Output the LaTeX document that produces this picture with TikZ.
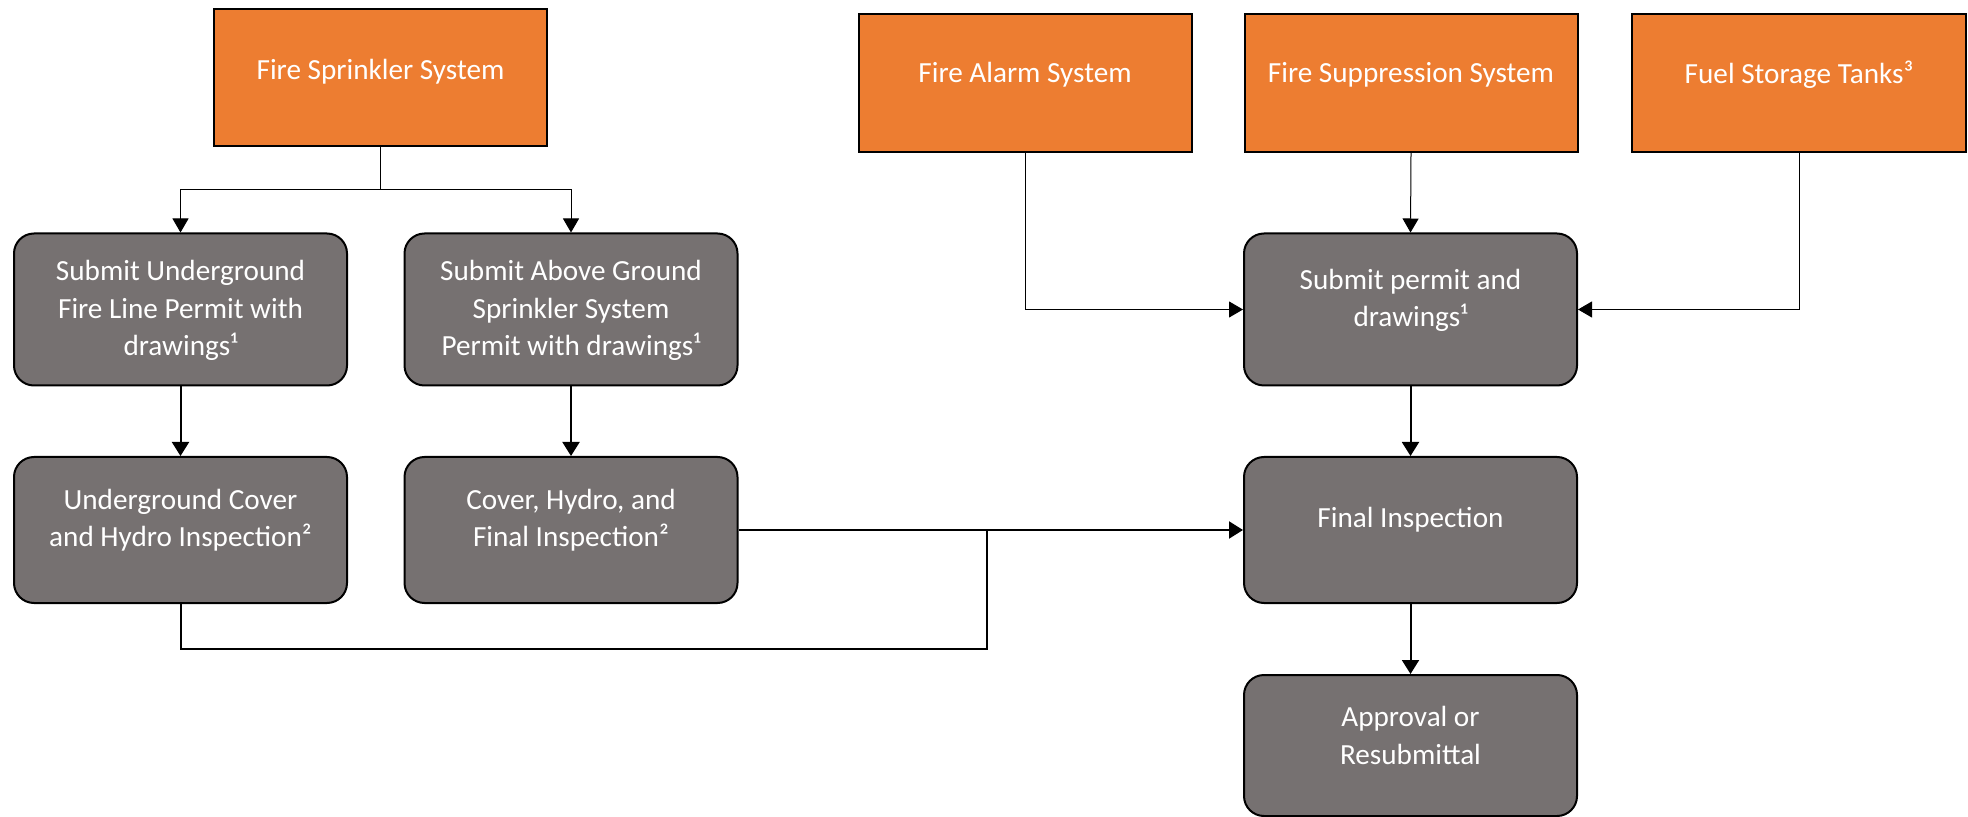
\documentclass[tikz,border=0pt]{standalone}
\usepackage{fontspec}
\setmainfont{Carlito}
\usetikzlibrary{arrows.meta}
\definecolor{orng}{HTML}{ED7D31}
\definecolor{gry}{HTML}{767171}
\begin{document}
\begin{tikzpicture}[x=0.5pt,y=-0.5pt,
  obox/.style={draw=black, line width=1pt, fill=orng, minimum width=166.5pt, inner sep=0pt},
  gbox/.style={draw=black, line width=1pt, fill=gry, rounded corners=10pt, minimum width=166.5pt, inner sep=0pt},
  txt/.style={text=white, align=center, font=\fontsize{14.6}{18.6}\selectfont, inner sep=0pt},
  thinarr/.style={line width=0.5pt, -{Triangle[length=7pt,width=8pt]}},
  thickarr/.style={line width=1pt, -{Triangle[length=7pt,width=8.5pt]}},
  thickln/.style={line width=1pt},
  thinln/.style={line width=0.5pt}]
\useasboundingbox (0,0) rectangle (1968,817);
% orange boxes
\node[obox, minimum height=68.25pt] (fs) at (380.5,77.75) {};
\node[txt] (fsT) at ([yshift=3pt]fs.center) {Fire Sprinkler System};
\node[obox, minimum height=68.75pt] (fa) at (1025,83) {};
\node[txt] (faT) at ([yshift=4.25pt]fa.center) {Fire Alarm System};
\node[obox, minimum height=68.75pt] (fsup) at (1411,83) {};
\node[txt] (fsupT) at ([yshift=4.25pt]fsup.center) {Fire Suppression System};
\node[obox, minimum height=68.75pt, minimum width=167pt] (fuel) at (1799,83) {};
\node[txt] (fuelT) at ([yshift=4.25pt]fuel.center) {Fuel Storage Tanks³};
% grey boxes
\node[gbox, minimum height=76pt] (su) at (180.5,309.5) {};
\node[txt] (suT) at ([yshift=-0.5pt]su.center) {Submit Underground\\Fire Line Permit with\\drawings¹};
\node[gbox, minimum height=76pt] (sa) at (571,309.5) {};
\node[txt] (saT) at ([yshift=-0.5pt]sa.center) {Submit Above Ground\\Sprinkler System\\Permit with drawings¹};
\node[gbox, minimum height=73pt] (uc) at (180.5,530) {};
\node[txt] (ucT) at ([yshift=5pt]uc.center) {Underground Cover\\and Hydro Inspection²};
\node[gbox, minimum height=73pt] (ch) at (571,530) {};
\node[txt] (chT) at ([yshift=5pt]ch.center) {Cover, Hydro, and\\Final Inspection²};
\node[gbox, minimum height=76pt] (sp) at (1410.5,309.5) {};
\node[txt] (spT) at ([yshift=4.5pt]sp.center) {Submit permit and\\drawings¹};
\node[gbox, minimum height=73pt] (fi) at (1410.5,530) {};
\node[txt] (fiT) at ([yshift=5pt]fi.center) {Final Inspection};
\node[gbox, minimum height=70.5pt] (ap) at (1410.5,745.5) {};
\node[txt] (apT) at ([yshift=5pt]ap.center) {Approval or\\Resubmittal};
% connectors
\coordinate (fsj) at (380.5,190);
\draw[thinln] (fs.south) -- (fsj);
\draw[thinarr] (fsj) -| (su.north);
\draw[thinarr] (fsj) -| (sa.north);
\draw[thinarr] (fa.south) |- (sp.west);
\draw[thinarr] (fsup.south) -- (sp.north);
\draw[thinarr] (fuel.south) |- (sp.east);
\draw[thickarr] (su.south) -- (uc.north);
\draw[thickarr] (sa.south) -- (ch.north);
\draw[thickarr] (sp.south) -- (fi.north);
\draw[thickarr] (fi.south) -- (ap.north);
\draw[thickarr] (ch.east) -- (fi.west);
\coordinate (mb) at (987,649);
\draw[thickln] (uc.south) |- (mb) -- (mb |- fi.west);
\end{tikzpicture}
\end{document}
